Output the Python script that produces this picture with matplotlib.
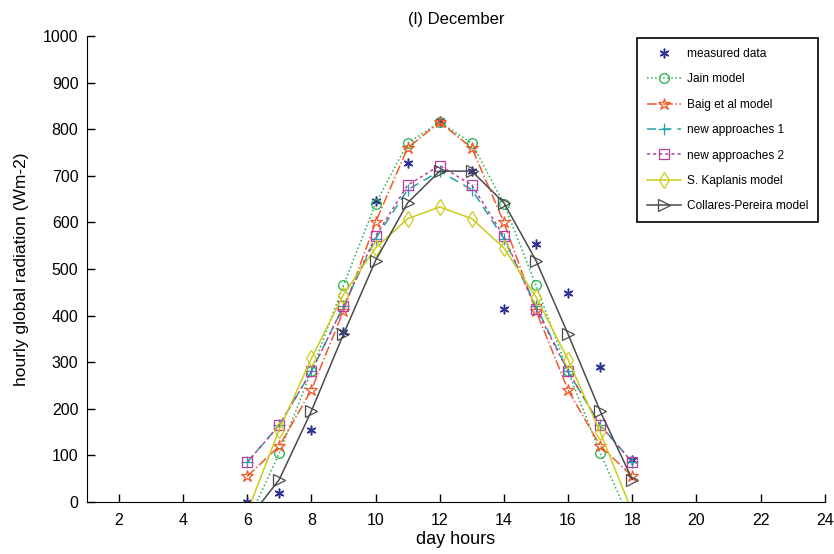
import matplotlib
matplotlib.use("Agg")
import matplotlib.pyplot as plt

plt.rcParams['font.family'] = ['Liberation Sans', 'DejaVu Sans']

hours = [6, 7, 8, 9, 10, 11, 12, 13, 14, 15, 16, 17, 18]
measured = [0, 20, 155, 365, 645, 728, 818, 710, 415, 553, 448, 290, 90]
jain = [-45, 105, 280, 465, 640, 770, 815, 770, 640, 465, 280, 105, -50]
baig = [55, 120, 240, 410, 600, 760, 815, 760, 600, 410, 240, 120, 55]
new1 = [85, 165, 280, 420, 565, 670, 710, 670, 565, 420, 280, 165, 85]
new2 = [85, 165, 280, 420, 570, 680, 722, 680, 570, 415, 280, 165, 85]
kaplanis = [-22, 155, 308, 445, 545, 608, 633, 608, 545, 440, 305, 150, -22]
collares = [-40, 48, 195, 360, 518, 642, 710, 710, 642, 518, 360, 195, 48]

xticks = [2, 4, 6, 8, 10, 12, 14, 16, 18, 20, 22, 24]
yticks = [0, 100, 200, 300, 400, 500, 600, 700, 800, 900, 1000]

fig = plt.figure(figsize=(8.34, 5.54), dpi=100)
ax = fig.add_axes([0.104, 0.094, 0.885, 0.841])

ax.plot(hours, measured, linestyle='none', marker=(6, 2, 0), markersize=7,
        color='#2e3192', markeredgewidth=1.1, label='measured data')
ax.plot(hours, jain, linestyle=':', color='#22b14c', marker='o', markersize=7,
        markerfacecolor='none', markeredgewidth=0.9, lw=1.1, label='Jain model')
ax.plot(hours, baig, linestyle='-.', color='#f15a29', marker='*', markersize=9,
        markerfacecolor='none', markeredgewidth=0.9, lw=1.1, label='Baig et al model')
ax.plot(hours, new1, linestyle=(0, (6, 4)), color='#1fa4a8', marker='+', markersize=8,
        markeredgewidth=0.9, lw=1.1, label='new approaches 1')
ax.plot(hours, new2, linestyle=(0, (2, 2)), color='#b83ea0', marker='s', markersize=7,
        markerfacecolor='none', markeredgewidth=0.9, lw=1.1, label='new approaches 2')
ax.plot(hours, kaplanis, linestyle='-', color='#cccc1a', marker='d', markersize=8,
        markerfacecolor='none', markeredgewidth=0.9, lw=1.1, label='S. Kaplanis model')
ax.plot(hours, collares, linestyle='-', color='#4a4a4a', marker='>', markersize=8,
        markerfacecolor='none', markeredgewidth=0.9, lw=1.1, label='Collares-Pereira model')

ax.set_xlim(1, 24)
ax.set_ylim(0, 1000)
ax.set_xticks(xticks)
ax.set_yticks(yticks)
ax.tick_params(direction='in', length=6, labelsize=11.5, width=1)
ax.tick_params(axis='x', pad=8)
ax.tick_params(axis='y', pad=6)
ax.spines['top'].set_visible(False)
ax.spines['right'].set_visible(False)
ax.set_xlabel('day hours', fontsize=13, labelpad=2)
ax.set_ylabel('hourly global radiation (Wm-2)', fontsize=12.5, labelpad=10)
ax.set_title('(l) December', fontsize=12, pad=9)

leg = ax.legend(loc='upper left', bbox_to_anchor=(0.745, 0.996), fontsize=8.6,
                frameon=True, fancybox=False, edgecolor='black', framealpha=1,
                borderpad=0.85, labelspacing=1.12, handlelength=2.9, handletextpad=0.45,
                borderaxespad=0)
leg.get_frame().set_linewidth(1.2)

fig.savefig('out.png', dpi=100)
